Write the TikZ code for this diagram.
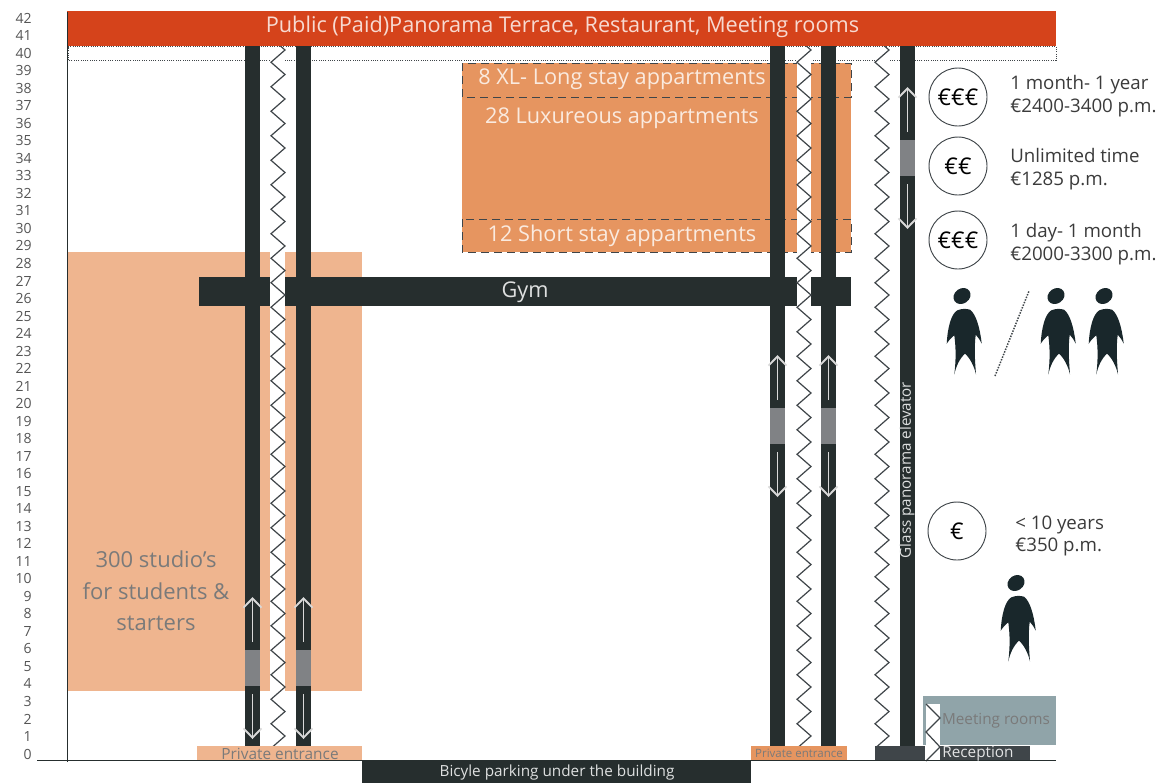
\documentclass[tikz,border=0pt]{standalone}
\usepackage{fontspec}
\setmainfont{Open Sans}
\usetikzlibrary{arrows.meta}

\definecolor{roofred}{HTML}{D5431B}
\definecolor{studioorange}{HTML}{EFB58F}
\definecolor{aptorange}{HTML}{E69560}
\definecolor{shaftdark}{HTML}{262E2E}
\definecolor{liftgrey}{HTML}{808285}
\definecolor{meetblue}{HTML}{90A4A9}
\definecolor{recgrey}{HTML}{3F4549}
\definecolor{persondark}{HTML}{19272B}
\definecolor{textgrey}{HTML}{7A7A7A}
\definecolor{axisgrey}{HTML}{555555}

\newcommand{\fpx}[1]{\fontsize{\fpeval{#1*0.75}}{\fpeval{#1*0.9}}\selectfont}
\newcommand{\person}[2]{
  \fill[persondark, shift={(#1,#2)}] (0,0) ellipse [x radius=9, y radius=7.5, rotate=35];
  \fill[persondark, shift={(#1,#2)}] (-4.7,14.3) .. controls (0,12.5) and (4,12.5) .. (8,13.7)
    .. controls (14,18) and (18,32) .. (19.7,47.7)
    .. controls (18,44) and (16,41) .. (13.7,38.7)
    .. controls (12,52) and (13,66) .. (14,78.3)
    .. controls (12,70) and (8,62) .. (3,57.7)
    .. controls (-2,62) and (-6,70) .. (-7.7,78.7)
    .. controls (-6,64) and (-6,52) .. (-7.7,39.3)
    .. controls (-10,41) and (-13,44) .. (-15.3,47.7)
    .. controls (-14.5,32) and (-11,18) .. cycle;
}
\newcommand{\zigzag}[1]{
  \begin{scope}
    \clip (#1-8,46) rectangle (#1+8,746);
    \draw[zig] (#1+7,25.5) \foreach \k in {0,...,29} { -- ++(-14,12.25) -- ++(14,12.25) };
  \end{scope}
}
\newcommand{\liftarrows}[2]{
  \fill[liftgrey] (#1-7.5,#2-18) rectangle (#1+7.5,#2+18);
  \draw[liftarrow, ->] (#1,#2-26) -- (#1,#2-71);
  \draw[liftarrow, ->] (#1,#2+26) -- (#1,#2+71);
}

\tikzset{
  lbl/.style={inner sep=0pt, align=center},
  axislbl/.style={inner sep=0pt, anchor=east, text=axisgrey, font=\fpx{14}},
  pricelbl/.style={inner sep=0pt, anchor=west, align=left, text=axisgrey!70!black, font=\fpx{18.7}},
  eurocircle/.style={circle, draw=recgrey, line width=0.7pt, minimum size=43.5pt, inner sep=0pt, text=black, font=\fpx{23}},
  zig/.style={draw=recgrey, line width=0.9pt},
  liftarrow/.style={draw=white!85!black, line width=1.4pt, >={Straight Barb[length=7pt,width=13.5pt]}},
  dashbox/.style={draw=recgrey, dash pattern=on 6pt off 3.75pt, line width=0.6pt},
  dotline/.style={draw=recgrey, densely dotted, line width=0.7pt}
}

\begin{document}
\begin{tikzpicture}[x=0.75pt, y=-0.75pt]
    \useasboundingbox (0,0) rectangle (1160,783);

    % Verdiepingen
    \foreach \n in {0,...,42} {
      \node[axislbl] (level\n) at (32,{754-17.52*\n}) {\n};
    }

    % Studio's en appartementen
    \fill[studioorange] (67,252) rectangle (270,691);
    \fill[studioorange] (285,252) rectangle (362,691);
    \fill[aptorange] (462,63) rectangle (797,252);
    \fill[aptorange] (811,63) rectangle (851,252);
    \draw[dashbox] (462,63) rectangle (851,97);
    \draw[dashbox] (462,219) rectangle (851,252);

    % Dak
    \draw[dotline] (68,46.5) -- (1056,46.5) -- (1056,60.5) -- (68,60.5) -- cycle;
    \fill[roofred] (67,11) rectangle (1056,46);

    % Schachten
    \foreach \x in {252.5,303.5,777.5,828.5,907.5} {
      \fill[shaftdark] (\x-7.5,46) rectangle (\x+7.5,746);
    }
    \fill[white] (270.5,47) rectangle (285,746);
    \fill[white] (797,47) rectangle (811,746);
    \fill[white] (875,47) rectangle (889,746);

    % Gym
    \fill[shaftdark] (199,277) rectangle (270,306);
    \fill[shaftdark] (285,277) rectangle (797,306);
    \fill[shaftdark] (811,277) rectangle (851,306);

    % Trappen
    \zigzag{278}
    \zigzag{804}
    \zigzag{882}

    % Liften
    \liftarrows{252.5}{668}
    \liftarrows{303.5}{668}
    \liftarrows{777.5}{426}
    \liftarrows{828.5}{426}
    \liftarrows{907.5}{158}

    % Begane grond
    \fill[studioorange] (197,746) rectangle (362,760);
    \fill[aptorange] (751,746) rectangle (847,760);
    \fill[recgrey] (875,746) rectangle (925,760);
    \fill[recgrey] (940,746) rectangle (1030,760);
    \fill[meetblue] (923,696) rectangle (1056,745);
    \fill[white] (926,704) rectangle (940,762);
    \draw[zig] (926,704) -- (940,718) -- (926,732) -- (940,747) -- (926,761);
    \fill[shaftdark] (362,761) rectangle (751,783);

    \draw[draw=shaftdark, line width=0.8pt] (67.5,12) -- (67.5,762);
    \draw[draw=shaftdark, line width=0.8pt] (37,760.5) -- (1056,760.5);

    % Teksten
    \node[lbl, text=white!80!roofred, font=\fpx{21.7}] (roof) at (562.5,27) {Public (Paid)Panorama Terrace, Restaurant, Meeting rooms};
    \node[lbl, text=white!80!aptorange, font=\fpx{21.7}] (xl) at (622,79) {8 XL- Long stay appartments};
    \node[lbl, text=white!80!aptorange, font=\fpx{21.7}] (lux) at (622,118) {28 Luxureous appartments};
    \node[lbl, text=white!80!aptorange, font=\fpx{21.7}] (short) at (622,236) {12 Short stay appartments};
    \node[lbl, text=white!85!shaftdark, font=\fpx{21.7}] (gym) at (525,292) {Gym};
    \node[lbl, text=textgrey, font=\fpx{22}] (studios) at (156,591) {300 studio’s\\[4pt]for students \&\\[4pt]starters};
    \node[lbl, text=textgrey, font=\fpx{15.4}] (entrancea) at (280,754) {Private entrance};
    \node[lbl, text=textgrey, font=\fpx{11.5}] (entranceb) at (799,753) {Private entrance};
    \node[lbl, text=white!85!shaftdark, font=\fpx{15.3}] (bike) at (557,773) {Bicyle parking under the building};
    \node[lbl, text=white!85!recgrey, font=\fpx{15.3}] (reception) at (978,754) {Reception};
    \node[lbl, text=textgrey, font=\fpx{15.3}] (meeting) at (996,721) {Meeting rooms};
    \node[lbl, text=white!85!shaftdark, font=\fpx{15.2}, rotate=90] (glass) at (907,470) {Glass panorama elevator};

    % Prijzen
    \node[eurocircle] (priceA) at (958,97) {€€€};
    \node[eurocircle] (priceB) at (958,166) {€€};
    \node[eurocircle] (priceC) at (958,240) {€€€};
    \node[eurocircle] (priceD) at (957,531) {€};
    \node[pricelbl] (termA) at (1010,96) {1 month- 1 year\\€2400-3400 p.m.};
    \node[pricelbl] (termB) at (1010,169) {Unlimited time\\€1285 p.m.};
    \node[pricelbl] (termC) at (1010,244) {1 day- 1 month\\€2000-3300 p.m.};
    \node[pricelbl] (termD) at (1015,536) {< 10 years\\€350 p.m.};

    % Bewoners
    \person{962}{296}
    \person{1056}{296}
    \person{1104}{296}
    \person{1016}{583}
    \draw[dotline, line width=1.1pt] (995,376) -- (1029,291);
\end{tikzpicture}
\end{document}
